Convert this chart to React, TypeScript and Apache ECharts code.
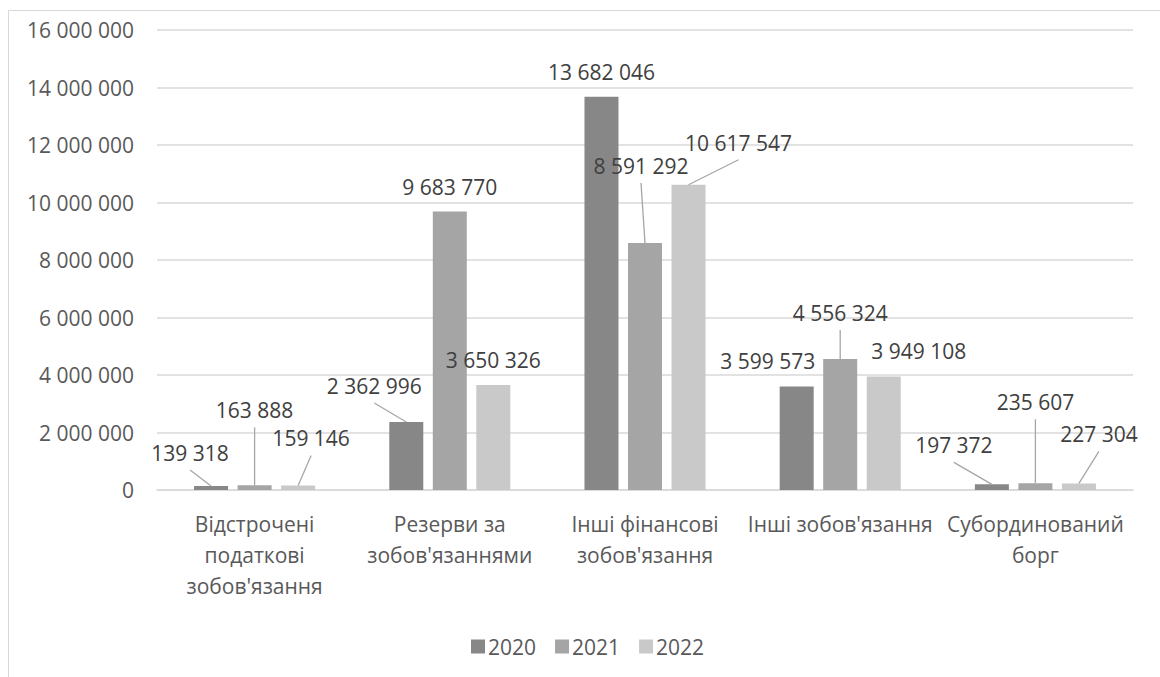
import React, { useEffect, useRef } from "react";
import * as echarts from "echarts";

const categories = [
  "Відстрочені\nподаткові\nзобов'язання",
  "Резерви за\nзобов'язаннями",
  "Інші фінансові\nзобов'язання",
  "Інші зобов'язання",
  "Субординований\nборг",
];
const years = ["2020", "2021", "2022"];
const values2020 = [139318, 2362996, 13682046, 3599573, 197372];
const values2021 = [163888, 9683770, 8591292, 4556324, 235607];
const values2022 = [159146, 3650326, 10617547, 3949108, 227304];
const yTicks = { min: 0, max: 16000000, interval: 2000000 };

const colors = ["#878787", "#a5a5a5", "#c9c9c9"];

// label offsets (dx, dy, leader line) per series / category
const labelOffsets: [number, number, boolean][][] = [
  [[-21, -8, true], [-32, -11, true], [0, 0, false], [-29, -1, false], [-38, -14, true]],
  [[0, -50, true], [0, 0, false], [-4, -52, true], [0, -21, true], [0, -56, true]],
  [[13, -22, true], [0, 0, false], [50, -17, true], [35, 0, false], [20, -24, true]],
];

const BAR_W = 34;
const BAR_GAP = 0.28;
const LABEL_DIST = 12;
const LABEL_LH = 26;

const fmt = (v: number) => String(v).replace(/\B(?=(\d{3})+(?!\d))/g, " ");
const FONT = "Open Sans";

export default function App() {
  const ref = useRef<HTMLDivElement>(null);
  useEffect(() => {
    if (!ref.current) return;
    const chart = echarts.init(ref.current, undefined, { renderer: "svg" });
    const seriesValues = [values2020, values2021, values2022];

    // leader line items: [category index, value, series index, dx, dy]
    const leaderItems: number[][] = [];
    seriesValues.forEach((vals, si) =>
      vals.forEach((v, di) => {
        const o = labelOffsets[si][di];
        if (o[2]) leaderItems.push([di, v, si, o[0], o[1]]);
      })
    );

    const barSeries = years.map((y, si) => ({
      name: y,
      type: "bar",
      barWidth: BAR_W,
      barGap: BAR_GAP * 100 + "%",
      itemStyle: { color: colors[si] },
      label: {
        show: true,
        position: "top",
        distance: LABEL_DIST,
        fontFamily: FONT,
        fontSize: 21,
        lineHeight: LABEL_LH,
        color: "#404040",
        formatter: (p: any) => fmt(p.value),
      },
      labelLayout: (p: any) => {
        const o = labelOffsets[p.seriesIndex][p.dataIndex];
        return { dx: o[0], dy: o[1], hideOverlap: false };
      },
      data: vals(si),
    }));
    function vals(si: number) {
      return seriesValues[si];
    }

    const leaderSeries = {
      type: "custom",
      name: "leaders",
      silent: true,
      z: 3,
      data: leaderItems,
      renderItem: (params: any, api: any) => {
        const cat = api.value(0);
        const val = api.value(1);
        const si = api.value(2);
        const dx = api.value(3);
        const dy = api.value(4);
        const pt = api.coord([cat, val]);
        const step = BAR_W * (1 + BAR_GAP);
        const bx = pt[0] + (si - 1) * step;
        const by = pt[1];
        const lx = bx + dx;
        const ly = by - LABEL_DIST - LABEL_LH / 2 + dy + 17;
        return {
          type: "line",
          shape: { x1: lx, y1: ly, x2: bx, y2: by },
          style: { stroke: "#a6a6a6", lineWidth: 1.3 },
        };
      },
    };

    chart.setOption({
      animation: false,
      backgroundColor: "#ffffff",
      graphic: [
        {
          type: "rect",
          shape: { x: 8.5, y: 10.5, width: 1200, height: 700 },
          style: { fill: "none", stroke: "#d9d9d9", lineWidth: 1 },
          silent: true,
        },
      ],
      grid: { left: 157, right: 27, top: 30, height: 460 },
      legend: {
        data: years,
        left: 466,
        top: 631,
        icon: "rect",
        itemWidth: 14,
        itemHeight: 14,
        itemGap: 19,
        textStyle: { fontFamily: FONT, fontSize: 21, color: "#595959", padding: [0, 0, 0, -2] },
      },
      xAxis: {
        type: "category",
        data: categories,
        axisLine: { lineStyle: { color: "#d9d9d9", width: 1.5 } },
        axisTick: { show: false },
        axisLabel: {
          interval: 0,
          margin: 18,
          fontFamily: FONT,
          fontSize: 21,
          lineHeight: 31,
          color: "#595959",
        },
      },
      yAxis: {
        type: "value",
        min: yTicks.min,
        max: yTicks.max,
        interval: yTicks.interval,
        axisLine: { show: false },
        axisTick: { show: false },
        splitLine: { lineStyle: { color: "#d9d9d9", width: 1.5 } },
        axisLabel: {
          margin: 23,
          fontFamily: FONT,
          fontSize: 21,
          color: "#595959",
          formatter: (v: number) => fmt(v),
        },
      },
      series: [...barSeries, leaderSeries],
    });
    return () => chart.dispose();
  }, []);
  return (
    <div
      ref={ref}
      style={{ position: "fixed", left: 0, top: 0, width: 1160, height: 677 }}
    />
  );
}
